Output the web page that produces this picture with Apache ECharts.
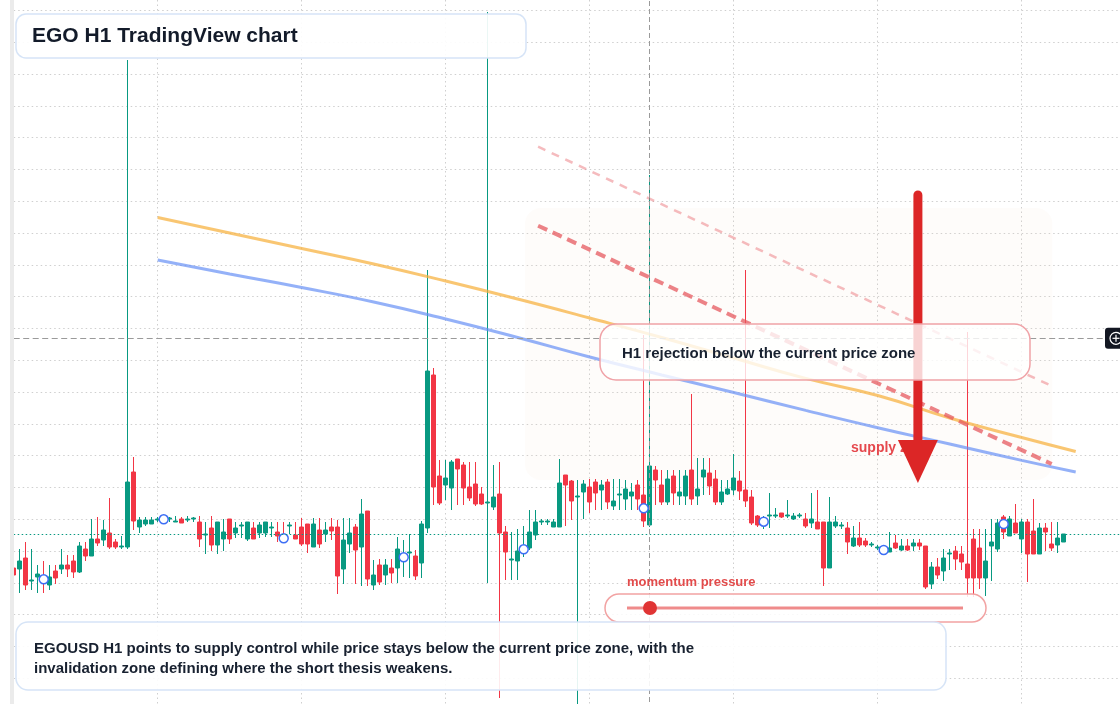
<!DOCTYPE html>
<html>
<head>
<meta charset="utf-8">
<title>EGO H1 TradingView chart</title>
<script src="https://cdn.jsdelivr.net/npm/echarts@6.0.0/dist/echarts.min.js"></script>
<style>
  html, body { margin: 0; padding: 0; background: #ffffff; }
  #main { width: 1120px; height: 704px; }
</style>
</head>
<body>
<div id="main"></div>
<script>
  // hourly candles
  var opens = [142,141,152,129,133,133,125,139,141,145,149,138,161,154,171,170,177,168,163,163,
    238,183,186,186,190,190,191,188,191,190,191,188,175,182,165,171,191,177,184,171,
    182,177,177,182,178,175,184,175,183,186,163,180,176,183,183,141,166,183,163,199,
    125,145,135,142,142,149,157,154,147,182,335,234,225,222,251,245,223,226,216,207,
    203,216,178,150,149,157,162,175,188,188,183,183,235,229,213,218,223,228,220,228,
    204,215,211,214,225,215,185,240,225,208,234,214,214,240,214,233,237,231,208,216,
    220,229,220,213,194,186,194,194,197,194,191,194,191,187,188,188,142,184,184,182,
    164,172,169,165,162,160,158,167,160,164,164,167,164,126,143,139,156,159,156,146,
    171,162,132,164,161,193,174,187,171,188,179,156,182,166,165,168];
  var closes = [135,149,125,130,136,128,133,132,145,141,138,164,154,171,167,180,163,163,164,228,
    189,190,190,190,191,191,192,189,187,191,192,171,176,165,188,178,171,182,185,188,
    171,185,188,183,174,170,185,171,166,166,186,166,180,179,134,170,177,160,196,131,
    135,128,145,137,161,156,158,134,186,339,223,207,232,248,241,222,212,206,206,208,
    213,177,158,151,159,164,178,188,189,189,188,227,225,209,214,226,208,217,225,208,
    209,216,221,218,211,189,244,230,208,231,217,218,234,211,221,240,224,208,218,221,
    232,219,209,187,185,190,195,195,193,195,194,195,184,191,181,142,188,188,185,168,
    172,165,165,166,163,161,162,162,164,160,167,164,123,143,135,152,157,151,148,132,
    132,132,149,168,187,178,191,177,188,156,156,182,178,162,172,176];
  var lows = [133,117,120,120,117,117,120,126,136,133,132,137,149,154,164,164,161,161,161,161,
    180,177,184,186,188,188,188,188,187,188,188,163,156,159,156,159,166,172,172,169,
    171,172,173,173,168,168,176,171,164,157,163,162,168,170,116,126,157,126,124,124,
    120,125,125,127,127,133,132,130,132,177,205,205,210,200,205,205,209,204,205,127,
    200,12,130,130,130,153,160,170,185,185,183,183,184,190,2,191,197,200,200,201,
    200,200,200,200,200,183,183,205,205,205,205,205,205,205,205,215,215,205,205,215,
    215,210,203,185,183,181,182,192,192,192,190,192,182,182,181,124,142,182,181,156,
    163,163,163,163,160,157,158,161,159,159,159,160,121,121,131,129,140,140,140,113,
    113,121,114,129,158,171,174,177,157,128,156,156,159,159,157,168];
  var highs = [144,161,168,161,145,149,145,145,161,155,155,168,168,191,193,190,212,171,174,650,
    253,193,193,193,193,193,193,194,193,194,193,194,188,194,188,191,191,188,188,188,
    188,188,188,188,188,188,188,188,192,186,192,192,188,192,190,192,192,186,211,199,
    150,151,151,151,173,170,176,160,189,440,342,250,250,250,251,248,248,248,223,698,
    245,248,184,178,181,184,200,200,191,191,191,251,235,230,230,230,231,231,230,231,
    231,231,230,227,230,375,535,244,240,240,240,240,240,316,252,252,252,240,230,230,
    256,239,440,220,195,194,217,202,197,210,197,197,197,217,220,188,213,194,188,188,
    184,188,172,168,165,164,178,175,171,171,171,171,164,148,152,161,161,164,164,378,
    181,181,181,191,191,195,194,206,191,191,211,187,187,188,188,176];

  // blue hollow markers every 20 bars
  var markerIdx = [5, 25, 45, 65, 85, 105, 125, 145, 165];
  var markerVal = [130.7, 190.7, 171.7, 152.7, 160.7, 201.7, 188.3, 160, 186];

  // moving averages [bar, value]
  var yellowLine = [[24,492.5],[36,477],[48,461.5],[60,446],[72,429],[84,411],[96,392],
    [108,372.5],[120,352],[132,331.6],[144,314.5],[156,292],[168,272.5],[177,258.5]];
  var blueLine = [[24,450],[36,436],[48,422.5],[60,408],[72,391],[84,372.5],[96,353],
    [108,335],[120,317.5],[132,299.6],[144,282.3],[156,266],[168,249.6],[177,238]];

  // supply channel
  var channelUpper = [[87.4,563.3],[173,324]];
  var channelLower = [[87.4,484.3],[173,246]];
  var zoneX = [85.2, 173.1];
  var zoneY = [230, 502];

  var arrowX = 150.7;
  var arrowFrom = 515;
  var arrowBase = 270;
  var arrowTip = 227;

  var currentPrice = 176;
  var crossIndex = 106;
  var crossPrice = 371.7;

  var hours = [];
  for (var i = 0; i < 186; i++) {
    var d = new Date(Date.UTC(2024, 4, 6, i));
    hours.push((d.getUTCMonth() + 1) + '/' + d.getUTCDate() + ' ' + d.getUTCHours() + ':00');
  }

  var candles = opens.map(function (o, i) {
    return [o, closes[i], lows[i], highs[i]];
  });
  var markers = markerIdx.map(function (x, i) {
    return [x, markerVal[i]];
  });

  var font = '"Liberation Sans", Arial, Helvetica, sans-serif';
  var gridDots = { color: '#cfcfcf', width: 1, type: [1.5, 3] };

  var chart = echarts.init(document.getElementById('main'));
  chart.setOption({
    animation: false,
    backgroundColor: '#ffffff',
    // plot runs a little past the canvas on the right and bottom
    grid: { left: 13.7, top: 0, width: 1110, height: 710, outerBoundsMode: 'none' },
    xAxis: [{
      type: 'category',
      data: hours,
      boundaryGap: false,
      axisLine: { show: false },
      axisTick: { show: false },
      axisLabel: { show: false, interval: 23 },
      splitLine: { show: true, interval: 23, lineStyle: gridDots }
    }, {
      type: 'value',
      min: 0,
      max: hours.length - 1,
      show: false
    }],
    yAxis: {
      type: 'value',
      min: 0,
      max: 710,
      interval: 31.8,
      axisLine: { show: false },
      axisTick: { show: false },
      axisLabel: { show: false },
      splitLine: { show: true, showMaxLine: false, lineStyle: gridDots }
    },
    series: [{
      type: 'candlestick',
      data: candles,
      barWidth: 5,
      itemStyle: {
        color: '#089981',
        color0: '#f23645',
        borderColor: '#089981',
        borderColor0: '#f23645',
        borderWidth: 1
      },
      markLine: {
        silent: true,
        symbol: 'none',
        label: { show: false },
        data: [
          { yAxis: currentPrice, lineStyle: { color: '#089981', width: 1, type: [1.5, 2.5] } },
          { xAxis: crossIndex, lineStyle: { color: '#9a9a9a', width: 1, type: [5, 3] } },
          { yAxis: crossPrice, lineStyle: { color: '#9a9a9a', width: 1.2, type: [6, 3.5] } }
        ]
      }
    }, {
      type: 'line',
      xAxisIndex: 1,
      data: yellowLine,
      smooth: true,
      symbol: 'none',
      lineStyle: { color: 'rgba(247,176,60,0.72)', width: 3 }
    }, {
      type: 'line',
      xAxisIndex: 1,
      data: blueLine,
      smooth: true,
      symbol: 'none',
      lineStyle: { color: 'rgba(98,140,245,0.68)', width: 3 }
    }, {
      type: 'line',
      xAxisIndex: 1,
      data: channelUpper,
      symbol: 'none',
      lineStyle: { color: 'rgba(236,120,125,0.5)', width: 2.5, type: [8, 7] }
    }, {
      type: 'line',
      xAxisIndex: 1,
      data: channelLower,
      symbol: 'none',
      lineStyle: { color: 'rgba(230,90,95,0.75)', width: 4, type: [10, 6] }
    }, {
      type: 'line',
      xAxisIndex: 1,
      z: 5,
      data: [[arrowX, arrowFrom], [arrowX, arrowBase]],
      symbol: 'none',
      lineStyle: { color: '#dc2626', width: 9, cap: 'round' }
    }, {
      type: 'scatter',
      xAxisIndex: 1,
      z: 5,
      data: [[arrowX, (arrowBase + arrowTip) / 2]],
      symbol: 'path://M0,0 L40,0 L20,43 Z',
      symbolSize: [40, 43],
      itemStyle: { color: '#dc2626', opacity: 1 }
    }, {
      type: 'scatter',
      data: markers,
      symbol: 'circle',
      symbolSize: 9,
      itemStyle: { color: '#ffffff', borderColor: '#3d6ef5', borderWidth: 1.5, opacity: 1 }
    }]
  });

  // overlays placed from the axes
  var zx0 = chart.convertToPixel({ xAxisIndex: 1 }, zoneX[0]);
  var zx1 = chart.convertToPixel({ xAxisIndex: 1 }, zoneX[1]);
  var zy0 = chart.convertToPixel({ yAxisIndex: 0 }, zoneY[1]);
  var zy1 = chart.convertToPixel({ yAxisIndex: 0 }, zoneY[0]);
  var cy = chart.convertToPixel({ yAxisIndex: 0 }, crossPrice);

  chart.setOption({
    graphic: [
      { type: 'rect', z: 1, shape: { x: zx0, y: zy0, width: zx1 - zx0, height: zy1 - zy0, r: 16 },
        style: { fill: 'rgba(250,225,205,0.1)' } },
      { type: 'text', z: 1, x: 851, y: 448,
        style: { text: 'supply zone', fill: '#e5484d', font: 'bold 14px ' + font, verticalAlign: 'middle' } },
      { type: 'rect', z: 120, shape: { x: 10, y: 0, width: 4, height: 704 }, style: { fill: '#ebebeb' } },

      // title
      { type: 'rect', z: 100, shape: { x: 16, y: 14, width: 510, height: 44, r: 10 },
        style: { fill: 'rgba(255,255,255,0.92)', stroke: '#d6e4f7', lineWidth: 1.5 } },
      { type: 'text', z: 101, x: 32, y: 36,
        style: { text: 'EGO H1 TradingView chart', fill: '#131b2a', font: 'bold 21px ' + font, verticalAlign: 'middle' } },

      // rejection note
      { type: 'rect', z: 100, shape: { x: 600, y: 324, width: 430, height: 56, r: 16 },
        style: { fill: 'rgba(255,255,255,0.8)', stroke: '#f0a2a7', lineWidth: 1.5 } },
      { type: 'text', z: 101, x: 622, y: 354,
        style: { text: 'H1 rejection below the current price zone', fill: '#182130', font: 'bold 15px ' + font, verticalAlign: 'middle' } },

      // momentum slider
      { type: 'text', z: 101, x: 627, y: 582,
        style: { text: 'momentum pressure', fill: '#e24b4b', font: 'bold 13px ' + font, verticalAlign: 'middle' } },
      { type: 'rect', z: 100, shape: { x: 605, y: 594, width: 381, height: 28, r: 14 },
        style: { fill: 'rgba(255,255,255,0.85)', stroke: '#f2a3a3', lineWidth: 1.5 } },
      { type: 'line', z: 101, shape: { x1: 627, y1: 608, x2: 963, y2: 608 },
        style: { stroke: '#ef8b8b', lineWidth: 3 } },
      { type: 'circle', z: 102, shape: { cx: 650, cy: 608, r: 7 }, style: { fill: '#e03434' } },

      // bottom summary
      { type: 'rect', z: 100, shape: { x: 16, y: 622, width: 930, height: 68, r: 12 },
        style: { fill: 'rgba(255,255,255,0.9)', stroke: '#d6e4f7', lineWidth: 1.5 } },
      { type: 'text', z: 101, x: 34, y: 659,
        style: {
          text: 'EGOUSD H1 points to supply control while price stays below the current price zone, with the\ninvalidation zone defining where the short thesis weakens.',
          fill: '#182130', font: 'bold 15px ' + font, lineHeight: 20, verticalAlign: 'middle'
        } },

      // crosshair price tag
      { type: 'rect', z: 110, shape: { x: 1105, y: cy - 10.5, width: 24, height: 21, r: 3 }, style: { fill: '#131722' } },
      { type: 'circle', z: 111, shape: { cx: 1116, cy: cy, r: 6 }, style: { fill: 'none', stroke: '#ffffff', lineWidth: 1.2 } },
      { type: 'line', z: 111, shape: { x1: 1112.5, y1: cy, x2: 1119.5, y2: cy }, style: { stroke: '#ffffff', lineWidth: 1.2 } },
      { type: 'line', z: 111, shape: { x1: 1116, y1: cy - 3.5, x2: 1116, y2: cy + 3.5 }, style: { stroke: '#ffffff', lineWidth: 1.2 } }
    ]
  });
</script>
</body>
</html>
